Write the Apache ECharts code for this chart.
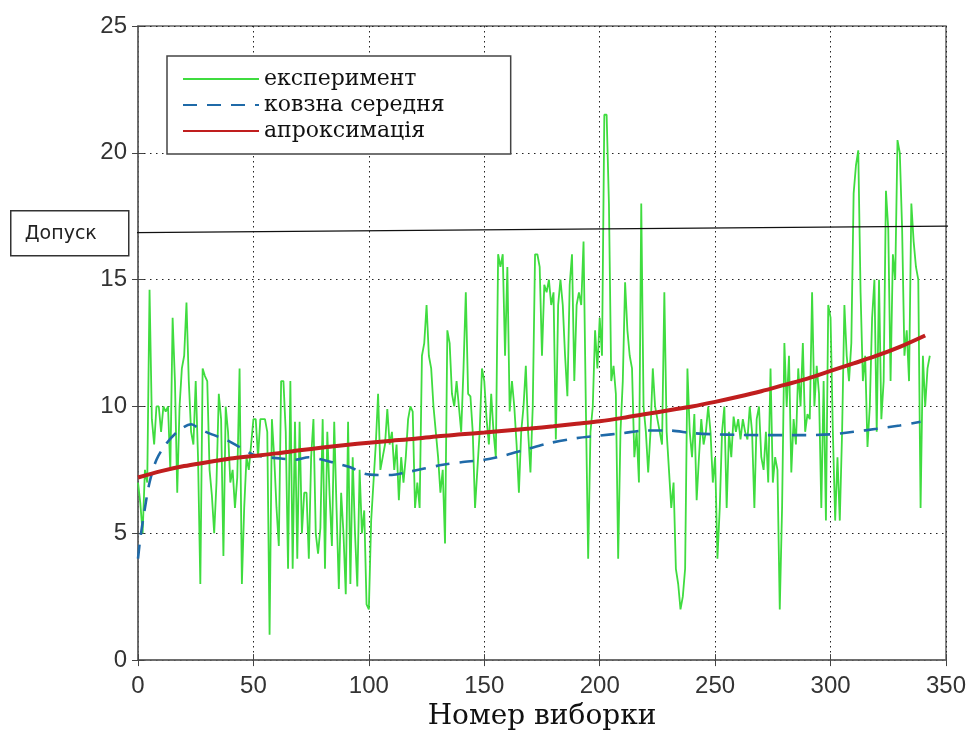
<!DOCTYPE html>
<html>
<head>
<meta charset="utf-8">
<script src="https://cdn.jsdelivr.net/npm/echarts@6/dist/echarts.min.js"></script>
<style>html,body{margin:0;padding:0;background:#fff;}#c{width:969px;height:736px;}</style>
</head>
<body>
<div id="c"></div>
<script>
// ---- data ----
const xTicks = [0, 50, 100, 150, 200, 250, 300, 350];
const yTicks = [0, 5, 10, 15, 20, 25];
const seriesNames = ['експеримент', 'ковзна середня', 'апроксимація'];
const toleranceLabel = 'Допуск';
const xTitle = 'Номер виборки';

// експеримент: one value per sample, samples 0..343
const experiment = [
 7.0, 6.2, 5.0, 7.5, 7.0, 14.6, 9.5, 8.5, 10.0, 10.0,
 9.0, 10.0, 9.8, 10.0, 7.5, 13.5, 11.0, 6.6, 10.0, 11.5,
 12.0, 14.1, 11.0, 9.0, 8.5, 11.0, 8.0, 3.0, 11.5, 11.2,
 11.0, 7.5, 6.5, 5.0, 7.0, 10.5, 9.5, 4.1, 10.0, 9.0,
 7.0, 7.5, 6.0, 7.2, 11.5, 3.0, 6.0, 8.0, 7.5, 8.5,
 9.5, 9.5, 8.0, 9.5, 9.5, 9.5, 9.0, 1.0, 9.5, 8.0,
 6.0, 4.5, 11.0, 11.0, 9.0, 3.6, 11.0, 3.6, 9.4, 4.0,
 9.4, 5.0, 6.6, 6.6, 4.0, 8.0, 9.5, 5.0, 4.2, 5.2,
 9.5, 3.6, 9.0, 6.5, 4.5, 9.4, 6.0, 2.8, 6.6, 5.0,
 2.6, 9.4, 3.0, 8.0, 5.0, 2.9, 7.5, 5.0, 5.9, 2.2,
 2.0, 5.5, 7.0, 8.5, 10.5, 7.5, 8.0, 8.5, 9.9, 8.5,
 9.0, 7.5, 8.5, 6.3, 8.0, 7.0, 8.0, 9.5, 10.0, 9.8,
 6.0, 7.0, 6.0, 12.0, 12.5, 14.0, 12.0, 11.5, 10.0, 9.0,
 8.0, 6.6, 7.5, 4.6, 13.0, 12.5, 10.5, 10.0, 11.0, 10.0,
 9.0, 11.5, 14.5, 10.5, 10.4, 9.0, 6.0, 7.5, 9.0, 11.5,
 11.0, 9.5, 8.5, 10.5, 9.0, 8.0, 16.0, 15.5, 16.0, 12.0,
 15.5, 9.8, 11.0, 10.0, 8.5, 6.6, 9.0, 10.0, 11.6, 9.0,
 7.4, 10.0, 16.0, 16.0, 15.5, 12.0, 14.8, 14.5, 15.0, 14.0,
 14.5, 8.7, 14.0, 15.0, 14.0, 12.0, 10.4, 14.8, 16.0, 11.0,
 14.0, 14.5, 14.0, 16.5, 10.0, 4.0, 9.0, 10.0, 13.0, 11.5,
 13.5, 12.0, 21.5, 21.5, 18.0, 11.0, 11.6, 10.5, 4.0, 9.0,
 11.0, 14.9, 13.0, 12.0, 11.5, 8.0, 9.0, 7.0, 18.0, 10.0,
 9.0, 7.4, 9.0, 11.5, 10.0, 9.5, 9.0, 8.5, 14.5, 9.0,
 7.5, 6.0, 7.0, 3.6, 3.0, 2.0, 2.5, 3.6, 11.5, 9.0,
 8.0, 9.7, 6.3, 8.0, 9.5, 8.5, 9.0, 10.0, 9.0, 7.0,
 8.0, 4.0, 6.0, 9.0, 10.0, 6.0, 9.0, 8.0, 9.6, 9.0,
 9.5, 8.7, 9.5, 9.0, 8.7, 10.0, 9.0, 6.0, 9.5, 10.0,
 8.0, 7.5, 9.0, 7.0, 11.5, 7.0, 8.0, 7.5, 2.0, 6.0,
 12.5, 10.0, 12.0, 7.4, 9.5, 8.5, 11.5, 10.0, 12.5, 9.0,
 9.7, 9.5, 14.5, 10.0, 11.6, 10.5, 6.0, 11.0, 5.5, 14.0,
 13.5, 9.0, 5.5, 8.0, 5.5, 9.0, 14.0, 12.0, 11.0, 12.5,
 18.4, 19.5, 20.1, 14.5, 11.0, 12.0, 8.4, 10.0, 13.5, 15.0,
 9.0, 15.0, 9.5, 11.0, 18.5, 17.0, 11.0, 16.0, 15.0, 20.5,
 20.0, 17.0, 12.0, 13.0, 11.0, 18.0, 16.5, 15.5, 15.0, 6.0,
 12.0, 10.0, 11.5, 12.0
];

// ковзна середня: [sample, value]
const movingAvg = [
 [0,4.0],[1,4.8],[3,6.0],[5,7.0],[8,7.9],[12,8.5],[17,9.0],[23,9.3],[27,9.1],[32,8.9],
 [38,8.7],[44,8.4],[50,8.1],[56,8.0],[62,7.95],[68,7.9],[74,8.0],[80,7.9],[86,7.75],[92,7.6],
 [98,7.35],[104,7.3],[110,7.3],[116,7.4],[124,7.55],[132,7.7],[140,7.8],[150,7.9],[158,8.05],[168,8.3],
 [178,8.55],[190,8.75],[200,8.85],[210,8.95],[220,9.05],[230,9.05],[240,8.95],[250,8.9],[260,8.88],[270,8.87],
 [280,8.87],[290,8.87],[300,8.9],[310,9.0],[320,9.12],[330,9.25],[339,9.4]
];

// апроксимація: [sample, value]
const approx = [
 [0,7.2],[10,7.45],[20,7.65],[30,7.8],[40,7.95],[50,8.05],[60,8.15],[70,8.27],[80,8.38],[90,8.48],
 [100,8.57],[110,8.65],[120,8.73],[130,8.83],[140,8.9],[150,8.97],[160,9.05],[170,9.13],[180,9.22],[190,9.32],
 [200,9.42],[210,9.55],[220,9.7],[230,9.85],[240,10.0],[250,10.18],[260,10.38],[270,10.6],[280,10.85],[290,11.1],
 [300,11.4],[310,11.7],[320,12.0],[330,12.35],[341,12.8]
];

// Допуск line end points [sample, value]
const tolerance = [[-4.3, 16.85], [359.6, 17.12]];

// ---- chart ----
const chart = echarts.init(document.getElementById('c'), null, {renderer: 'canvas'});
const expData = experiment.map((v, i) => [i, v]);
const axisLabelFont = {fontFamily: 'Liberation Sans', fontSize: 24, color: '#333'};

chart.setOption({
  animation: false,
  backgroundColor: '#fff',
  grid: {left: 138, right: 22, top: 26, bottom: 74, show: true, borderColor: '#666', borderWidth: 1.5},
  legend: {
    data: seriesNames,
    orient: 'vertical',
    left: 167, top: 56,
    itemWidth: 76, itemHeight: 12, itemGap: 4,
    padding: [12, 66, 12, 15],
    borderColor: '#444', borderWidth: 1.5,
    backgroundColor: '#fff',
    itemStyle: {opacity: 0},
    textStyle: {fontFamily: 'DejaVu Serif', fontSize: 22, color: '#111', lineHeight: 21}
  },
  xAxis: [{
    type: 'value', min: 0, max: 350, interval: 50,
    axisLine: {lineStyle: {color: '#666', width: 1.5}},
    axisTick: {inside: true, length: 6, lineStyle: {color: '#444'}},
    axisLabel: Object.assign({margin: 14, formatter: v => xTicks.includes(v) ? String(v) : ''}, axisLabelFont),
    splitLine: {show: true, lineStyle: {color: '#222', type: [1.5, 3.5], width: 1}},
    name: xTitle, nameLocation: 'middle', nameGap: 42,
    nameTextStyle: {fontFamily: 'DejaVu Serif', fontSize: 28, color: '#111'}
  }, {
    type: 'value', min: 0, max: 350, interval: 50, position: 'top',
    axisLine: {show: false}, axisLabel: {show: false}, splitLine: {show: false},
    axisTick: {inside: true, length: 6, lineStyle: {color: '#444'}}
  }],
  yAxis: [{
    type: 'value', min: 0, max: 25, interval: 5,
    axisLine: {show: true, lineStyle: {color: '#666', width: 1.5}},
    axisTick: {show: true, inside: true, length: 6, lineStyle: {color: '#444'}},
    axisLabel: Object.assign({margin: 11, formatter: v => yTicks.includes(v) ? String(v) : ''}, axisLabelFont),
    splitLine: {show: true, lineStyle: {color: '#222', type: [1.5, 4.5], width: 1}}
  }, {
    type: 'value', min: 0, max: 25, interval: 5, position: 'right',
    axisLine: {show: false}, axisLabel: {show: false}, splitLine: {show: false},
    axisTick: {show: true, inside: true, length: 6, lineStyle: {color: '#444'}}
  }],
  series: [
    {
      name: seriesNames[0], type: 'line', data: expData, symbol: 'none',
      lineStyle: {color: '#3fdc3f', width: 1.8}, itemStyle: {color: '#3fdc3f'}, z: 2
    },
    {
      name: seriesNames[1], type: 'line', data: movingAvg, symbol: 'none', smooth: 0.3,
      lineStyle: {color: '#1f6aa8', width: 2.6, type: [14, 10]}, itemStyle: {color: '#1f6aa8'}, z: 3
    },
    {
      name: seriesNames[2], type: 'line', data: approx, symbol: 'none', smooth: 0.3,
      lineStyle: {color: '#c01e1e', width: 4}, itemStyle: {color: '#c01e1e'}, z: 4
    },
    {
      name: toleranceLabel, type: 'line', data: tolerance, symbol: 'none', clip: false,
      lineStyle: {color: '#111', width: 1.3}, z: 5, silent: true
    }
  ],
  graphic: [{
    type: 'group', left: 10, top: 210,
    children: [
      {type: 'rect', shape: {x: 0, y: 0, width: 118, height: 45}, style: {fill: '#fff', stroke: '#333', lineWidth: 1.5}},
      {type: 'text', x: 14, y: 23, style: {text: toleranceLabel, fontFamily: 'DejaVu Sans', fontSize: 19, fill: '#222', verticalAlign: 'middle'}}
    ]
  }]
});
</script>
</body>
</html>
